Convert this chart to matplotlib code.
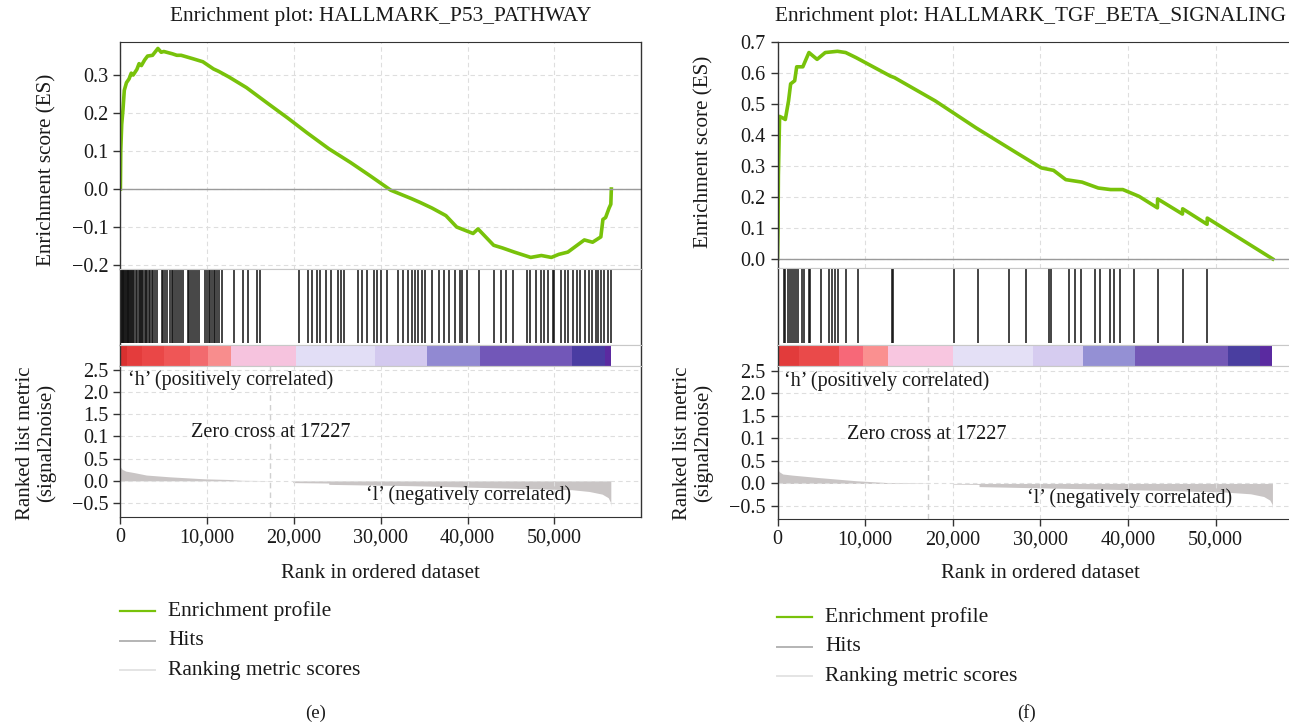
import numpy as np
import matplotlib.pyplot as plt
from matplotlib.lines import Line2D
from matplotlib.ticker import FixedLocator, FixedFormatter, FuncFormatter

plt.rcParams['font.family'] = ['Liberation Serif', 'DejaVu Serif']
plt.rcParams['font.size'] = 14.5
plt.rcParams['text.color'] = '#1a1a1a'
plt.rcParams['xtick.color'] = '#333333'
plt.rcParams['ytick.color'] = '#333333'
plt.rcParams['xtick.labelcolor'] = '#1a1a1a'
plt.rcParams['ytick.labelcolor'] = '#1a1a1a'

W, H = 1289, 722
ZERO_CROSS = 17227
x_ticks = [0, 10000, 20000, 30000, 40000, 50000]
metric_ticks = [2.5, 2.0, 1.5, 1.0, 0.5, 0.0, -0.5]
metric_tick_labels = ['2.5', '2.0', '1.5', '0.1', '0.5', '0.0', '\u22120.5']

# ---- HALLMARK_P53_PATHWAY ----
p53_es_rank = [0, 40, 150, 300, 450, 700, 1000, 1250, 1470, 1900, 2150, 2420, 2800, 3130,
               3700, 4320, 4700, 5000, 5980, 6500, 7000, 8350, 9500, 10730, 11300, 12500,
               14520, 17000, 19270, 21500, 24010, 26500, 28760, 31140, 33500, 34500, 35890,
               37500, 38740, 40630, 41200, 43000, 44000, 45380, 47270, 48500, 49650, 50500,
               51550, 52500, 53450, 54400, 55350, 55590, 55900, 56300, 56500, 56560]
p53_es = [0.0, 0.10, 0.17, 0.21, 0.26, 0.28, 0.29, 0.305, 0.30, 0.315, 0.33, 0.325, 0.34,
          0.35, 0.352, 0.37, 0.36, 0.362, 0.356, 0.352, 0.352, 0.343, 0.335, 0.316, 0.31,
          0.295, 0.267, 0.225, 0.187, 0.148, 0.106, 0.07, 0.035, -0.003, -0.025, -0.035,
          -0.05, -0.07, -0.1, -0.117, -0.105, -0.148, -0.155, -0.166, -0.18, -0.175, -0.18,
          -0.172, -0.166, -0.15, -0.134, -0.14, -0.126, -0.08, -0.075, -0.05, -0.04, 0.0]
p53_hits = [0, 60, 110, 180, 265, 350, 430, 520, 620, 720, 820, 920, 1020, 1120, 1220, 1340,
            1460, 1610, 1770, 1930, 2090, 2210, 2330, 2490, 2650, 2810, 2960, 3120, 3280,
            3440, 3600, 3800, 4000, 4190, 4790, 4950, 5110, 5380, 5700, 5900, 6100, 6300,
            6500, 6770, 7010, 7170, 7770, 7960, 8160, 8360, 8560, 8840, 9080, 9750, 9950,
            10150, 10350, 10550, 10750, 10940, 11140, 11340, 11730, 13120, 14110, 14710,
            15700, 16100, 20580, 21650, 22050, 22640, 23040, 23640, 24230, 25020, 25420,
            25810, 27410, 27800, 28400, 29190, 29590, 29980, 30770, 31970, 32560, 33150,
            33550, 33950, 34340, 34740, 35140, 35930, 36720, 37320, 37910, 38510, 39100,
            39300, 39900, 41290, 43070, 43870, 44460, 45250, 46840, 47230, 47830, 48430,
            48820, 49220, 49810, 50010, 50800, 51200, 51600, 52190, 52590, 52980, 53580,
            53980, 54370, 54770, 54970, 55370, 55760, 56160, 56550]
p53_metric_rank = [0, 200, 600, 1600, 3000, 5700, 9700, 12500, 14000, 17200, 17230, 19850,
                   19870, 24000, 24010, 33700, 41700, 49800, 52000, 54000, 55500, 56200,
                   56450, 56500]
p53_metric = [0.31, 0.26, 0.22, 0.185, 0.13, 0.09, 0.045, 0.03, 0.012, 0.005, 0.0, 0.0,
              -0.04, -0.05, -0.08, -0.11, -0.15, -0.19, -0.2, -0.24, -0.3, -0.38,
              -0.48, -0.58]
p53_band_edges = [0, 800, 2500, 5000, 8000, 10100, 12700, 20200, 29300, 35300, 41400,
                  52000, 55800, 56550]
p53_band_colors = ['#d8302f', '#e43c3c', '#ea4747', '#ef5656', '#f26a6e', '#f88d8d',
                   '#f6c3de', '#e2def6', '#d3c9ef', '#9189d2', '#7257b8', '#4a3ca2',
                   '#5b2aa0']

# ---- HALLMARK_TGF_BETA_SIGNALING ----
tgf_es_rank = [0, 60, 100, 240, 600, 890, 1260, 1500, 1960, 2190, 2890, 3590, 4520, 5450,
               6840, 7780, 8940, 12890, 13360, 18010, 22670, 27320, 30110, 31510, 32910,
               34760, 36620, 38020, 39420, 41280, 43370, 43390, 46230, 46250, 49040,
               49060, 56540]
tgf_es = [0.0, 0.1, 0.27, 0.46, 0.455, 0.45, 0.51, 0.565, 0.575, 0.62, 0.62, 0.666, 0.644,
          0.666, 0.67, 0.666, 0.65, 0.59, 0.585, 0.51, 0.423, 0.342, 0.294, 0.286, 0.256,
          0.248, 0.229, 0.224, 0.224, 0.202, 0.165, 0.194, 0.145, 0.162, 0.112, 0.132, 0.0]
tgf_hits = [0, 60, 700, 890, 1160, 1390, 1660, 1850, 2120, 2350, 2820, 3050, 3590, 3700,
            4930, 5900, 6210, 6560, 6940, 7830, 9140, 13030, 13150, 20120, 22850, 26440,
            28330, 30980, 31210, 33290, 33990, 34600, 36260, 36870, 37960, 38380, 39150,
            40690, 43380, 46240, 49050]
tgf_metric_rank = [0, 200, 600, 1700, 4750, 9000, 12500, 17200, 17230, 20000, 20020,
                   23000, 23010, 33000, 43000, 51000, 54000, 55500, 56200, 56450, 56500]
tgf_metric = [0.32, 0.26, 0.21, 0.185, 0.13, 0.06, 0.02, 0.005, 0.0, 0.0, -0.015,
              -0.02, -0.07, -0.11, -0.15, -0.19, -0.23, -0.29, -0.37, -0.46, -0.55]
tgf_band_edges = [0, 2500, 7000, 9800, 12600, 20000, 29200, 34900, 40800, 51400, 55100,
                  56500]
tgf_band_colors = ['#e23b3b', '#ea4a4a', '#f76878', '#fa9090', '#f8c6e0', '#e4e0f6',
                   '#d6ccf0', '#9490d4', '#7358b6', '#4a3ea0', '#5a2aa0']

GREEN = '#78c20a'
FRAME = '#333333'
SEP = '#c8c8c8'
GRID = '#dedede'


def px_axes(fig, x0, y0, x1, y1):
    return fig.add_axes([x0 / W, 1 - y1 / H, (x1 - x0) / W, (y1 - y0) / H])


def frame(ax, top=True, bottom=True):
    for side in ['left', 'right']:
        ax.spines[side].set_color(FRAME)
        ax.spines[side].set_linewidth(1.0)
    ax.spines['top'].set_color(FRAME if top else SEP)
    ax.spines['bottom'].set_color(FRAME if bottom else SEP)


def draw_panel(fig, x0, x1, rows, title, title_pos, es_rank, es, es_lim, es_ticks,
               hits, m_rank, metric, m_lim, edges, colors, labels_x, zero_txt_x, neg_txt_x,
               es_label_y):
    y_top, y_es, y_hit, y_bar, y_bot = rows
    cx = (x0 + x1) / 2

    # running enrichment score
    ax_es = px_axes(fig, x0, y_top, x1, y_es)
    ax_es.plot(es_rank, es, color=GREEN, lw=2.6, solid_joinstyle='round')
    ax_es.axhline(0, color='#9a9a9a', lw=1.0)
    ax_es.set_xlim(0, 60000)
    ax_es.set_ylim(*es_lim)
    ax_es.set_yticks(es_ticks)
    ax_es.yaxis.set_major_formatter(FuncFormatter(lambda v, p: f'{v:.1f}'.replace('-', '\u2212')))
    ax_es.set_xticks(x_ticks)
    ax_es.tick_params(axis='x', length=0, labelbottom=False)
    ax_es.tick_params(axis='y', direction='out', length=5, width=1)
    ax_es.grid(True, ls=(0, (4, 3)), color=GRID, lw=0.8)
    frame(ax_es, top=True, bottom=False)

    # gene set hits
    ax_hit = px_axes(fig, x0, y_es, x1, y_hit)
    ax_hit.vlines(hits, 0.02, 1, color='#111111', lw=1.1)
    ax_hit.set_xlim(0, 60000)
    ax_hit.set_ylim(0, 1)
    ax_hit.set_xticks([])
    ax_hit.set_yticks([])
    frame(ax_hit, top=False, bottom=False)

    # ranked list colour strip
    ax_bar = px_axes(fig, x0, y_hit, x1, y_bar)
    for i, c in enumerate(colors):
        ax_bar.axvspan(edges[i], edges[i + 1], color=c, lw=0)
    ax_bar.set_xlim(0, 60000)
    ax_bar.set_ylim(0, 1)
    ax_bar.set_xticks([])
    ax_bar.set_yticks([])
    frame(ax_bar, top=False, bottom=False)

    # ranked list metric
    ax_m = px_axes(fig, x0, y_bar, x1, y_bot)
    ax_m.fill_between(m_rank, 0, metric, color='#c9c5c5', lw=0)
    ax_m.axvline(ZERO_CROSS, color='#d0d0d0', ls=(0, (4, 3)), lw=1.0)
    ax_m.set_xlim(0, 60000)
    ax_m.set_ylim(*m_lim)
    ax_m.yaxis.set_major_locator(FixedLocator(metric_ticks))
    ax_m.yaxis.set_major_formatter(FixedFormatter(metric_tick_labels))
    ax_m.set_xticks(x_ticks)
    ax_m.xaxis.set_major_formatter(FuncFormatter(lambda v, p: f'{int(v):,}'))
    ax_m.tick_params(direction='out', length=5, width=1)
    ax_m.tick_params(axis='x', pad=3)
    ax_m.grid(True, ls=(0, (4, 3)), color=GRID, lw=0.8)
    frame(ax_m, top=False, bottom=True)

    ax_m.text(labels_x, 2.28, '\u2018h\u2019 (positively correlated)', ha='left', va='center')
    ax_m.text(zero_txt_x, 1.08, f'Zero cross at {ZERO_CROSS}', ha='left', va='center')
    ax_m.text(neg_txt_x, -0.33, '\u2018l\u2019 (negatively correlated)', ha='left',
              va='center')

    tx, ha = title_pos
    fig.text(tx / W, 1 - 16 / H, title, ha=ha, va='center', fontsize=15.3)
    fig.text(cx / W, 1 - 573 / H, 'Rank in ordered dataset', ha='center', va='center',
             fontsize=15)
    fig.text((x0 - 74) / W, 1 - es_label_y / H, 'Enrichment score (ES)',
             rotation=90, ha='center', va='center', fontsize=15.2)
    fig.text((x0 - 84) / W, 1 - 443 / H, 'Ranked list metric\n(signal2noise)',
             rotation=90, ha='center', va='center', fontsize=15, linespacing=1.1)


fig = plt.figure(figsize=(W / 100, H / 100), dpi=100)

draw_panel(fig, 120.4, 641.2, (42, 269, 345, 366, 517),
           'Enrichment plot: HALLMARK_P53_PATHWAY', (380.8, 'center'),
           p53_es_rank, p53_es, (-0.2105, 0.387), [0.3, 0.2, 0.1, 0.0, -0.1, -0.2],
           p53_hits, p53_metric_rank, p53_metric, (-0.816, 2.59),
           p53_band_edges, p53_band_colors, 900, 8100, 28300, 170)

draw_panel(fig, 777.5, 1303.1, (42, 268, 345, 366, 519),
           'Enrichment plot: HALLMARK_TGF_BETA_SIGNALING', (1286, 'right'),
           tgf_es_rank, tgf_es, (-0.029, 0.7), [0.7, 0.6, 0.5, 0.4, 0.3, 0.2, 0.1, 0.0],
           tgf_hits, tgf_metric_rank, tgf_metric, (-0.79, 2.61),
           tgf_band_edges, tgf_band_colors, 700, 7900, 28500, 152)

# legends drawn under each panel
legend_items = [('Enrichment profile', GREEN, 1.6),
                ('Hits', '#b4b4b4', 1.4),
                ('Ranking metric scores', '#e4e4e4', 1.4)]
for lx, ly0 in [(120, 611), (777, 617)]:
    for i, (name, col, lw) in enumerate(legend_items):
        y = 1 - (ly0 + i * 29.5) / H
        fig.add_artist(Line2D([lx / W, (lx + 35) / W], [y, y], color=col, lw=lw,
                              transform=fig.transFigure))
        fig.text((lx + 48) / W, y, name, ha='left', va='center', fontsize=15.5)

fig.text(316 / W, 1 - 713 / H, '(e)', ha='center', va='center', fontsize=13.5)
fig.text(1027 / W, 1 - 713 / H, '(f)', ha='center', va='center', fontsize=13.5)

fig.savefig('out.png', dpi=100, facecolor='white')
